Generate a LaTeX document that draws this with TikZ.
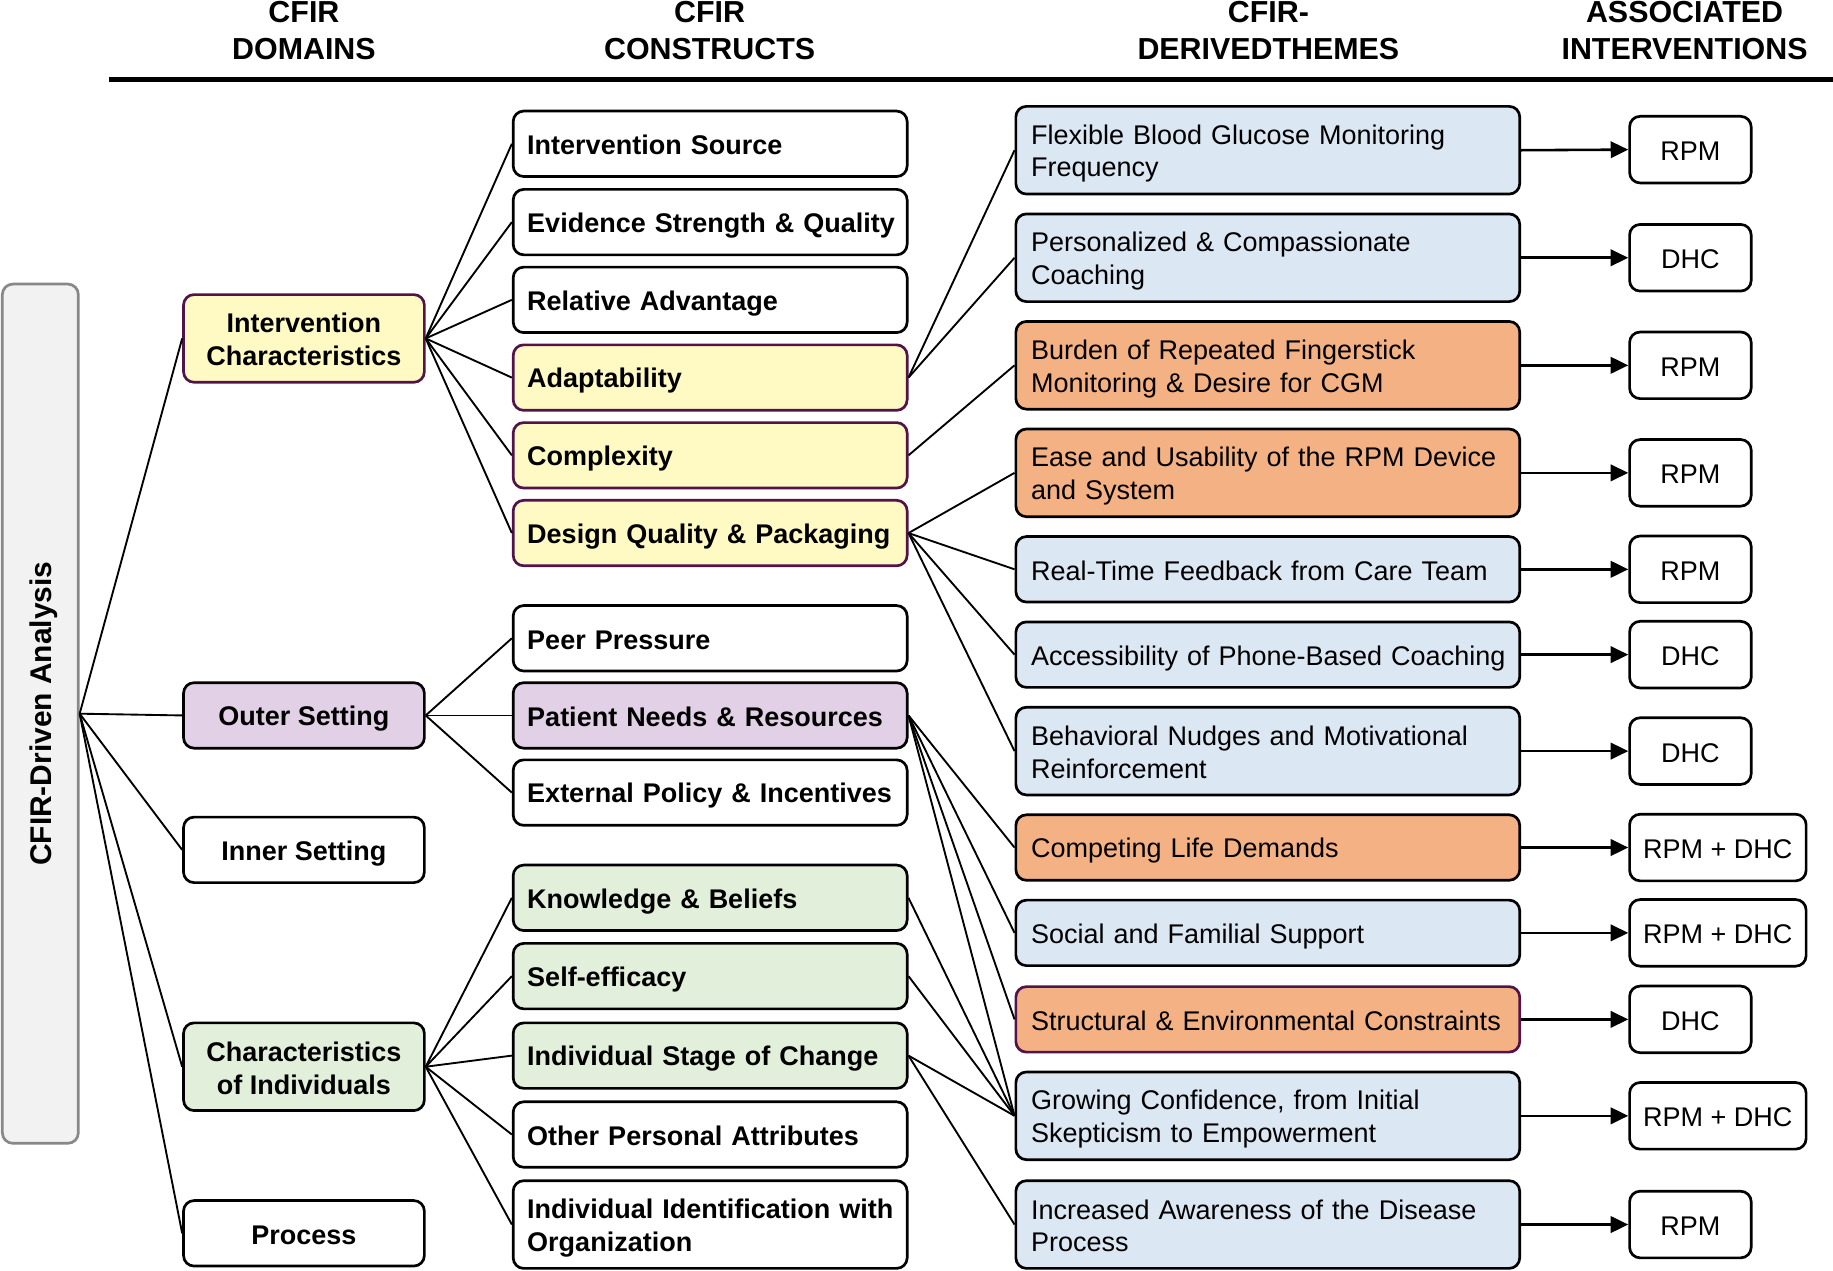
\documentclass[tikz,border=0pt]{standalone}
\usepackage{fontspec}
\setmainfont{Liberation Sans}
\usetikzlibrary{arrows.meta}
\definecolor{cyel}{RGB}{255,249,196}
\definecolor{cpur}{RGB}{80,20,75}
\definecolor{clav}{RGB}{225,208,230}
\definecolor{cgrn}{RGB}{226,239,218}
\definecolor{cblu}{RGB}{220,231,244}
\definecolor{corg}{RGB}{244,177,131}
\definecolor{cgray}{RGB}{242,242,242}
\definecolor{cgrayb}{RGB}{136,136,136}
\newcommand\ms{\rule[-3.8pt]{0pt}{26.3pt}}
\newcommand\oneln[1]{\mbox{\ms #1}}
\tikzset{
  basebox/.style={draw=black, line width=2.3pt, rounded corners=9pt, inner sep=0pt},
  domfont/.style={font=\fontsize{23.1}{28}\selectfont\bfseries},
  thmfont/.style={font=\fontsize{23.1}{28}\selectfont},
  hdr/.style={font=\fontsize{26}{31}\selectfont\bfseries, anchor=base, inner sep=0pt},
  dombox/.style={basebox, domfont, minimum width=206pt, align=center},
  conbox/.style={basebox, domfont, minimum width=337pt, text width=313pt, inner xsep=12pt, align=left},
  thmbox/.style={basebox, thmfont, minimum width=431pt, text width=405pt, inner xsep=13pt, align=left},
  intbox/.style={basebox, thmfont, minimum height=57pt, align=center},
  h1/.style={minimum height=56pt},
  h2/.style={minimum height=75pt},
  yel/.style={fill=cyel, draw=cpur},
  lav/.style={fill=clav},
  grn/.style={fill=cgrn},
  blu/.style={fill=cblu},
  org/.style={fill=corg},
  orgp/.style={fill=corg, draw=cpur},
  conn/.style={draw=black, line width=1.6pt},
  arr/.style={draw=black, line width=2.2pt, -{Triangle[length=15pt,width=14pt]}},
}
\begin{document}
\begin{tikzpicture}[x=1pt,y=-1pt]
\useasboundingbox (0,0) rectangle (1568,1087);

% headers
\node[hdr] (h1a) at (260,19.5) {CFIR};
\node[hdr] (h1b) at (260,50.7) {DOMAINS};
\node[hdr] (h2a) at (607,19.5) {CFIR};
\node[hdr] (h2b) at (607,50.7) {CONSTRUCTS};
\node[hdr] (h3a) at (1085,19.5) {CFIR-};
\node[hdr] (h3b) at (1085,50.7) {DERIVEDTHEMES};
\node[hdr] (h4a) at (1441,19.5) {ASSOCIATED};
\node[hdr] (h4b) at (1441,50.7) {INTERVENTIONS};
\coordinate (rl) at (93,68);
\coordinate (rr) at (1568,68);
\draw[line width=3.5pt] (rl) -- (rr);

% root
\node[draw=cgrayb, fill=cgray, line width=2.3pt, rounded corners=9pt, minimum width=65pt, minimum height=735pt, inner sep=0pt] (root) at (34.5,610.5) {};
\node[rotate=90, font=\fontsize{25.6}{30}\selectfont\bfseries, text height=18.4pt, text depth=0pt, inner sep=0pt] (rootlbl) at (35,610.5) {CFIR-Driven Analysis};

% domains
\node[dombox, h2, yel] (dIC) at (260,289.5) {\ms Intervention\\\ms Characteristics};
\node[dombox, h1, lav] (dOS) at (260,612) {\ms Outer Setting};
\node[dombox, h1] (dIS) at (260,727) {\ms Inner Setting};
\node[dombox, h2, grn] (dCI) at (260,912.5) {\ms Characteristics\\\ms of Individuals};
\node[dombox, h1] (dP) at (260,1055) {\ms Process};

% constructs
\node[conbox, h1] (c1) at (607.5,123) {\oneln{Intervention Source}};
\node[conbox, h1] (c2) at (607.5,190) {\oneln{Evidence Strength \& Quality}};
\node[conbox, h1] (c3) at (607.5,256.5) {\oneln{Relative Advantage}};
\node[conbox, h1, yel] (c4) at (607.5,323) {\oneln{Adaptability}};
\node[conbox, h1, yel] (c5) at (607.5,389.5) {\oneln{Complexity}};
\node[conbox, h1, yel] (c6) at (607.5,456) {\oneln{Design Quality \& Packaging}};
\node[conbox, h1] (c7) at (607.5,546) {\oneln{Peer Pressure}};
\node[conbox, h1, lav] (c8) at (607.5,612) {\oneln{Patient Needs \& Resources}};
\node[conbox, h1] (c9) at (607.5,678) {\oneln{External Policy \& Incentives}};
\node[conbox, h1, grn] (c10) at (607.5,768) {\oneln{Knowledge \& Beliefs}};
\node[conbox, h1, grn] (c11) at (607.5,835) {\oneln{Self-efficacy}};
\node[conbox, h1, grn] (c12) at (607.5,903) {\oneln{Individual Stage of Change}};
\node[conbox, h1] (c13) at (607.5,970.5) {\oneln{Other Personal Attributes}};
\node[conbox, h2] (c14) at (607.5,1047.5) {\oneln{Individual Identification with}\\\oneln{Organization}};

% themes
\node[thmbox, h2, blu] (t1) at (1084.5,128.5) {\oneln{Flexible Blood Glucose Monitoring}\\\oneln{Frequency}};
\node[thmbox, h2, blu] (t2) at (1084.5,220.5) {\oneln{Personalized \& Compassionate}\\\oneln{Coaching}};
\node[thmbox, h2, org] (t3) at (1084.5,312.5) {\oneln{Burden of Repeated Fingerstick}\\\oneln{Monitoring \& Desire for CGM}};
\node[thmbox, h2, org] (t4) at (1084.5,404.5) {\oneln{Ease and Usability of the RPM Device}\\\oneln{and System}};
\node[thmbox, h1, blu] (t5) at (1084.5,487) {\oneln{Real-Time Feedback from Care Team}};
\node[thmbox, h1, blu] (t6) at (1084.5,560) {\oneln{Accessibility of Phone-Based Coaching}};
\node[thmbox, h2, blu] (t7) at (1084.5,642.5) {\oneln{Behavioral Nudges and Motivational}\\\oneln{Reinforcement}};
\node[thmbox, h1, org] (t8) at (1084.5,725) {\oneln{Competing Life Demands}};
\node[thmbox, h1, blu] (t9) at (1084.5,798) {\oneln{Social and Familial Support}};
\node[thmbox, h1, orgp] (t10) at (1084.5,872) {\oneln{Structural \& Environmental Constraints}};
\node[thmbox, h2, blu] (t11) at (1084.5,954.5) {\oneln{Growing Confidence, from Initial}\\\oneln{Skepticism to Empowerment}};
\node[thmbox, h2, blu] (t12) at (1084.5,1047.5) {\oneln{Increased Awareness of the Disease}\\\oneln{Process}};

% interventions
\node[intbox, minimum width=104pt] (i1) at (1446,128) {\ms RPM};
\node[intbox, minimum width=104pt] (i2) at (1446,220.5) {\ms DHC};
\node[intbox, minimum width=104pt] (i3) at (1446,312.5) {\ms RPM};
\node[intbox, minimum width=104pt] (i4) at (1446,404.5) {\ms RPM};
\node[intbox, minimum width=104pt] (i5) at (1446,487) {\ms RPM};
\node[intbox, minimum width=104pt] (i6) at (1446,560) {\ms DHC};
\node[intbox, minimum width=104pt] (i7) at (1446,642.5) {\ms DHC};
\node[intbox, minimum width=151pt] (i8) at (1469.5,725) {\ms RPM + DHC};
\node[intbox, minimum width=151pt] (i9) at (1469.5,798) {\ms RPM + DHC};
\node[intbox, minimum width=104pt] (i10) at (1446,872) {\ms DHC};
\node[intbox, minimum width=151pt] (i11) at (1469.5,954.5) {\ms RPM + DHC};
\node[intbox, minimum width=104pt] (i12) at (1446,1047.5) {\ms RPM};

% root to domains
\foreach \d in {dIC,dOS,dIS,dCI,dP} \draw[conn] (root.east) -- (\d.west);
% domains to constructs
\foreach \c in {c1,c2,c3,c4,c5,c6} \draw[conn] (dIC.east) -- (\c.west);
\foreach \c in {c7,c8,c9} \draw[conn] (dOS.east) -- (\c.west);
\foreach \c in {c10,c11,c12,c13,c14} \draw[conn] (dCI.east) -- (\c.west);
% constructs to themes
\draw[conn] (c4.east) -- (t1.west);
\draw[conn] (c4.east) -- (t2.west);
\draw[conn] (c5.east) -- (t3.west);
\foreach \t in {t4,t5,t6,t7} \draw[conn] (c6.east) -- (\t.west);
\foreach \t in {t8,t9,t10,t11} \draw[conn] (c8.east) -- (\t.west);
\draw[conn] (c10.east) -- (t11.west);
\draw[conn] (c11.east) -- (t11.west);
\draw[conn] (c12.east) -- (t11.west);
\draw[conn] (c12.east) -- (t12.west);
% themes to interventions
\foreach \n in {1,...,12} \draw[arr] (t\n.east) -- (i\n.west);
\end{tikzpicture}
\end{document}
